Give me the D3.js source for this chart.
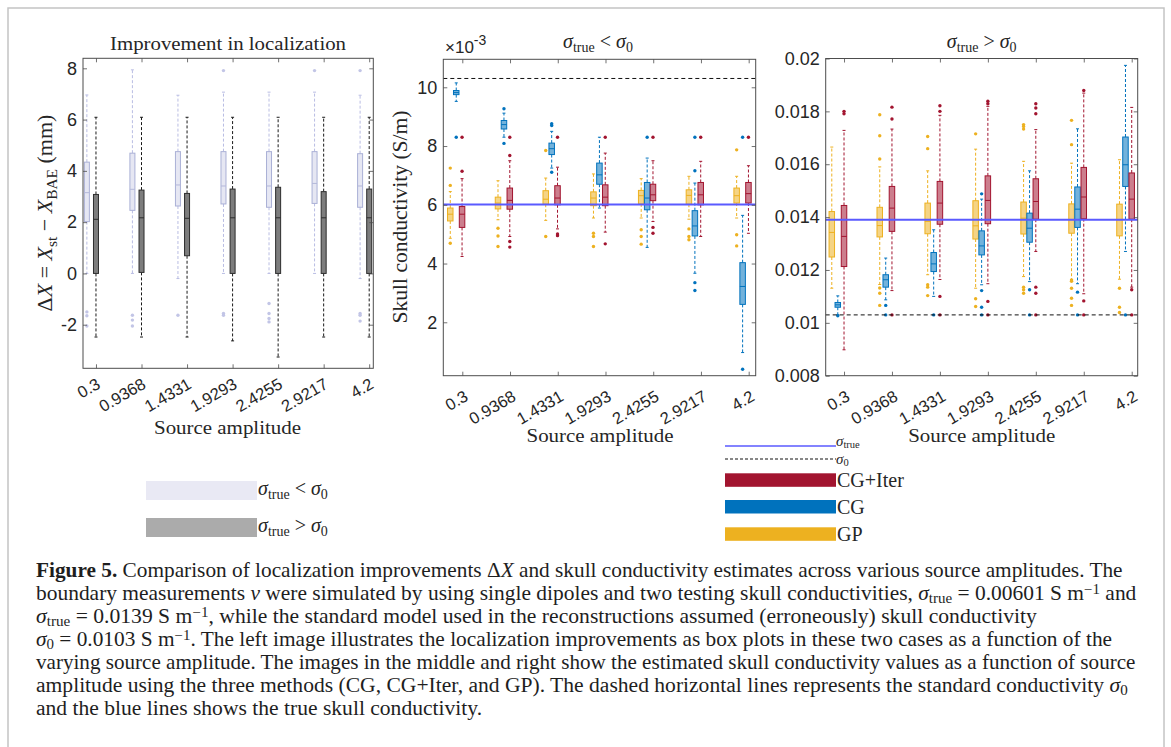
<!DOCTYPE html>
<html>
<head>
<meta charset="utf-8">
<script src="https://cdn.jsdelivr.net/npm/d3@7"></script>
<style>
  body { margin: 0; background: #fff; }
  svg { display: block; }
</style>
</head>
<body>
<svg id="fig" width="1171" height="747"></svg>
<script>
"use strict";

// --- DATA ---
const categories = ["0.3", "0.9368", "1.4331", "1.9293", "2.4255", "2.9217", "4.2"];

// box rows: [lower whisker, q1, median, q3, upper whisker]
const dxLess = [[0, 2.02, 3.15, 4.34, 6.96], [0, 2.46, 3.28, 4.69, 7.94], [-0.2, 2.63, 3.45, 4.75, 6.95],
  [0, 2.71, 3.41, 4.75, 7.07], [0, 2.58, 3.41, 4.75, 7.07], [0, 2.73, 3.51, 4.75, 7.07], [-0.2, 2.58, 3.41, 4.67, 6.95]];
const dxLessOut = [[-1.5, -1.65, -2.05], [-1.63, -1.82, -2.05], [-1.63], [7.91, -1.56, -1.63],
  [-1.17, -1.56, -1.76, -1.89], [7.91], [7.91, -1.56, -1.63, -1.86]];
const dxMore = [[-2.48, 0, 2.11, 3.08, 6.09], [-2.48, 0.04, 2.17, 3.25, 6.09], [-2.48, 0.69, 2.15, 3.12, 6.09],
  [-2.63, 0, 2.17, 3.29, 6.09], [-3.26, 0, 2.17, 3.36, 6.09], [-2.48, 0, 2.17, 3.19, 6.09], [-2.48, 0, 2.17, 3.29, 6.09]];
const dxMoreOut = [[], [], [], [], [], [], []];

// sigma_true < sigma_0, values x 1e-3 S/m
const lowGP = [[4.86, 5.45, 5.68, 5.89, 6.45], [5.49, 5.86, 6.06, 6.26, 6.82], [5.47, 6.02, 6.19, 6.48, 6.91],
  [5.55, 5.97, 6.23, 6.44, 7.05], [5.55, 6.03, 6.31, 6.49, 6.89], [5.51, 6.02, 6.32, 6.51, 6.97], [5.55, 6.06, 6.31, 6.57, 6.97]];
const lowGPOut = [[7.25, 6.66, 4.69], [5.2, 4.94, 4.58], [7.85, 4.92], [5.03, 4.92, 4.58], [5.15, 4.92, 4.66], [5.18, 4.92, 4.81], [7.87, 4.98, 4.6]];
const lowCG = [[9.52, 9.75, 9.82, 9.89, 10.15], [8.3, 8.58, 8.73, 8.87, 9.12], [7.25, 7.71, 7.91, 8.1, 8.5],
  [5.89, 6.7, 7.02, 7.42, 8.3], [4.55, 5.83, 6.23, 6.76, 7.59], [3.67, 4.94, 5.28, 5.8, 6.74], [0.97, 2.61, 3.22, 4.03, 5.64]];
const lowCGOut = [[8.3], [9.27, 8.09], [8.76, 8.7, 7.11], [], [8.3], [8.3, 7.16, 3.35, 3.08], [8.3, 0.4]];
const lowIter = [[4.24, 5.23, 5.68, 5.94, 6.89], [4.92, 5.85, 6.15, 6.57, 7.5], [5.18, 6.0, 6.23, 6.65, 7.28],
  [5.07, 5.97, 6.26, 6.68, 7.76], [5.43, 6.14, 6.34, 6.7, 7.5], [4.92, 6.0, 6.34, 6.76, 7.48], [5.03, 6.06, 6.38, 6.76, 7.33]];
const lowIterOut = [[8.3, 7.14], [8.3, 7.68, 4.75, 4.56], [8.3, 5.01, 4.95], [8.3, 4.67], [8.3, 5.23, 5.03], [8.3], [8.3]];

// sigma_true > sigma_0, S/m
const highGP = [[0.01131, 0.01249, 0.01342, 0.01421, 0.01665], [0.01145, 0.01325, 0.01368, 0.01437, 0.0159],
  [0.01182, 0.01337, 0.01384, 0.01453, 0.01575], [0.01131, 0.01317, 0.01367, 0.01462, 0.01657],
  [0.01175, 0.01336, 0.01396, 0.01457, 0.01611], [0.01163, 0.01339, 0.0139, 0.0145, 0.01604],
  [0.01165, 0.01329, 0.0139, 0.01449, 0.01617]];
const highGPOut = [[], [0.01787, 0.01708, 0.0162, 0.01132, 0.01112, 0.01066], [0.01705, 0.01659, 0.01144, 0.01135, 0.01103],
  [0.01715, 0.01091, 0.01062], [0.0175, 0.01743, 0.01733, 0.01135, 0.01125, 0.01112],
  [0.01766, 0.01674, 0.01162, 0.01157, 0.01131, 0.01093, 0.01066], [0.01131, 0.01059, 0.01039]];
const highCG = [[0.0103, 0.01059, 0.01068, 0.01077, 0.01102], [0.01087, 0.01135, 0.01163, 0.01182, 0.01245],
  [0.011, 0.01194, 0.01223, 0.01266, 0.01352], [0.01144, 0.01257, 0.01291, 0.01348, 0.01468],
  [0.01156, 0.01305, 0.01358, 0.01415, 0.01575], [0.01148, 0.01361, 0.0143, 0.01514, 0.01734],
  [0.0127, 0.01516, 0.01598, 0.01703, 0.01974]];
const highCGOut = [[0.01027], [0.01066, 0.0103], [0.0103], [0.01488, 0.01122, 0.01059, 0.0103], [0.01125, 0.0103], [0.01116, 0.0103], [0.0103]];
const highIter = [[0.00898, 0.01213, 0.01327, 0.01444, 0.01728], [0.01122, 0.01346, 0.01434, 0.01516, 0.01733],
  [0.01164, 0.01373, 0.01453, 0.01535, 0.01785], [0.01148, 0.01375, 0.01463, 0.01556, 0.01819],
  [0.0127, 0.01392, 0.01459, 0.01545, 0.01731], [0.0111, 0.01394, 0.01476, 0.01588, 0.01869],
  [0.01135, 0.01392, 0.01468, 0.01567, 0.01815]];
const highIterOut = [[0.018, 0.01791], [0.01816, 0.01771, 0.0103], [0.01821, 0.018, 0.011, 0.0103],
  [0.01838, 0.01829, 0.01081, 0.0103], [0.01829, 0.01813, 0.01791, 0.01135, 0.01112, 0.0103],
  [0.01879, 0.01083, 0.0103], [0.01125, 0.0103]];

const dxTicks = [-2, 0, 2, 4, 6, 8];
const lowTicks = [2, 4, 6, 8, 10];
const highTicks = [0.008, 0.01, 0.012, 0.014, 0.016, 0.018, 0.02];
const sigmaTrueLow = 6.01, sigma0Low = 10.3;       // x 1e-3
const sigmaTrueHigh = 0.0139, sigma0High = 0.0103;

// --- LAYOUT / STYLE ---
const SANS = '"Liberation Sans", Arial, sans-serif';
const SERIF = '"Liberation Serif", "Times New Roman", serif';
const COL = { gp: "#EDB120", cg: "#0072BD", iter: "#A2142F", axis: "#4d4d4d", txt: "#262626", trueLine: "#5a5aff" };
const P = {
  dx:   { l: 83, r: 373.3, t: 58.3, b: 368.3, xd: [-0.285, 6.09], yd: [-3.7, 8.39], lab: [5, 19] },
  low:  { l: 443.3, r: 755.7, t: 59.3, b: 375.7, xd: [-0.398, 6.147], yd: [0.182, 10.953], lab: [6.5, 24] },
  high: { l: 825.7, r: 1137.7, t: 58.5, b: 375.7, xd: [-0.382, 6.125], yd: [0.008, 0.02], lab: [6.5, 24] }
};

const svg = d3.select("#fig");

// outer frame
svg.append("rect").attr("x", 8).attr("y", 8).attr("width", 1156).attr("height", 760)
  .attr("fill", "none").attr("stroke", "#c4c4c4").attr("stroke-width", 1.5);

// --- HELPERS ---
function rich(parent, segs, fs, subK = 0.22, supK = 0.38) {
  const t = parent.append("text").attr("font-family", SERIF).attr("font-size", fs).attr("fill", COL.txt);
  let cur = 0;
  segs.forEach(([s, k]) => {
    const sh = k === "sub" ? subK * fs : k === "sup" ? -supK * fs : 0;
    const ts = t.append("tspan").text(s).attr("dy", sh - cur);
    cur = sh;
    if (k === "b") ts.attr("font-weight", "bold");
    if (k === "i") ts.attr("font-style", "italic");
    if (k === "sub" || k === "sup") ts.attr("font-size", fs * 0.7);
  });
  return t;
}

function makePanel(box, ticks, fmt) {
  const x = d3.scaleLinear().domain(box.xd).range([box.l, box.r]);
  const y = d3.scaleLinear().domain(box.yd).range([box.b, box.t]);
  const g = svg.append("g");
  return { g, x, y, box, ticks, fmt };
}

function drawAxes(p) {
  const { g, x, y, box } = p;
  const idx = d3.range(categories.length);
  const ax = g.append("g").attr("color", COL.axis);
  const yl = ax.append("g").attr("transform", `translate(${box.l},0)`)
    .call(d3.axisLeft(y).tickValues(p.ticks).tickFormat(p.fmt).tickSize(-4).tickPadding(6));
  yl.selectAll("text").attr("font-size", 18);
  ax.append("g").attr("transform", `translate(${box.r},0)`)
    .call(d3.axisRight(y).tickValues(p.ticks).tickFormat("").tickSize(-4));
  ax.append("g").attr("transform", `translate(0,${box.t})`)
    .call(d3.axisTop(x).tickValues(idx).tickFormat("").tickSize(-4));
  const xb = ax.append("g").attr("transform", `translate(0,${box.b})`)
    .call(d3.axisBottom(x).tickValues(idx).tickFormat(i => categories[i]).tickSize(-4));
  xb.selectAll("text").attr("x", 0).attr("y", 0).attr("dy", 0).attr("text-anchor", "end")
    .attr("transform", `translate(${box.lab[0]},${box.lab[1]}) rotate(-30)`)
    .attr("font-size", 16.5);
  ax.selectAll(".domain").remove();
  ax.selectAll("text").attr("font-family", SANS).attr("fill", COL.txt);
  ax.selectAll(".tick line").attr("stroke-width", 0.8);
  g.append("rect").attr("x", box.l).attr("y", box.t).attr("width", box.r - box.l).attr("height", box.b - box.t)
    .attr("fill", "none").attr("stroke", COL.axis).attr("stroke-width", 1);
}

function drawBoxes(p, stats, outs, off, st) {
  const bw = st.w, cw = 1.5;
  const grp = p.g.append("g").selectAll("g").data(stats).join("g")
    .attr("transform", (d, i) => `translate(${p.x(i + off)},0)`);
  grp.append("path")
    .attr("d", d => `M0,${p.y(d[3])}V${p.y(d[4])}M0,${p.y(d[1])}V${p.y(d[0])}`)
    .attr("fill", "none").attr("stroke", st.whisker).attr("stroke-width", 1).attr("stroke-dasharray", "3,2");
  grp.append("path")
    .attr("d", d => `M${-cw},${p.y(d[4])}H${cw}M${-cw},${p.y(d[0])}H${cw}`)
    .attr("stroke", st.whisker).attr("stroke-width", 1);
  grp.append("rect").attr("x", -bw / 2).attr("width", bw)
    .attr("y", d => p.y(d[3])).attr("height", d => p.y(d[1]) - p.y(d[3]))
    .attr("fill", st.fill).attr("fill-opacity", st.fo).attr("stroke", st.stroke).attr("stroke-width", 1);
  grp.append("line").attr("x1", -bw / 2).attr("x2", bw / 2)
    .attr("y1", d => p.y(d[2])).attr("y2", d => p.y(d[2]))
    .attr("stroke", st.median).attr("stroke-width", 1);
  grp.selectAll("circle").data((d, i) => outs[i]).join("circle")
    .attr("cx", 0).attr("cy", v => p.y(v)).attr("r", 1.7).attr("fill", st.dot);
}

function hline(p, v, color, w, dash) {
  p.g.append("line").attr("x1", p.box.l).attr("x2", p.box.r).attr("y1", p.y(v)).attr("y2", p.y(v))
    .attr("stroke", color).attr("stroke-width", w).attr("stroke-dasharray", dash || null);
}

function colourStyle(c) {
  return { w: 5.5, fill: c, fo: 0.55, stroke: c, median: c, whisker: c, dot: c };
}

// --- LEFT PANEL: localisation improvement ---
const pDx = makePanel(P.dx, dxTicks, d => String(d));
drawBoxes(pDx, dxLess, dxLessOut, -0.2,
  { w: 5, fill: "#e6e7f3", fo: 1, stroke: "#aab0d6", median: "#b4b8da", whisker: "#b9bde3", dot: "#c2c5e6" });
drawBoxes(pDx, dxMore, dxMoreOut, 0,
  { w: 5, fill: "#7d7d7d", fo: 1, stroke: "#2d2d2d", median: "#2d2d2d", whisker: "#1a1a1a", dot: "#1a1a1a" });
drawAxes(pDx);

// --- MIDDLE PANEL ---
const pLow = makePanel(P.low, lowTicks, d => String(d));
drawBoxes(pLow, lowGP, lowGPOut, -0.252, colourStyle(COL.gp));
drawBoxes(pLow, lowCG, lowCGOut, -0.127, colourStyle(COL.cg));
drawBoxes(pLow, lowIter, lowIterOut, -0.005, colourStyle(COL.iter));
hline(pLow, sigmaTrueLow, COL.trueLine, 2);
hline(pLow, sigma0Low, "#111", 1, "4,3");
drawAxes(pLow);

// --- RIGHT PANEL ---
const pHigh = makePanel(P.high, highTicks, d => String(+d.toFixed(3)));
drawBoxes(pHigh, highGP, highGPOut, -0.255, colourStyle(COL.gp));
drawBoxes(pHigh, highCG, highCGOut, -0.13, colourStyle(COL.cg));
drawBoxes(pHigh, highIter, highIterOut, 0, colourStyle(COL.iter));
hline(pHigh, sigmaTrueHigh, COL.trueLine, 2);
hline(pHigh, sigma0High, "#111", 1, "4,3");
drawAxes(pHigh);

// --- TITLES & AXIS LABELS ---
svg.append("text").attr("x", 228).attr("y", 50).attr("text-anchor", "middle")
  .attr("font-family", SERIF).attr("font-size", 19).attr("fill", COL.txt)
  .attr("textLength", 236).attr("lengthAdjust", "spacingAndGlyphs").text("Improvement in localization");

rich(svg, [["σ", "i"], ["true", "sub"], [" < "], ["σ", "i"], ["0", "sub"]], 20)
  .attr("x", 598).attr("y", 48).attr("text-anchor", "middle");
rich(svg, [["σ", "i"], ["true", "sub"], [" > "], ["σ", "i"], ["0", "sub"]], 20)
  .attr("x", 981.7).attr("y", 48).attr("text-anchor", "middle");

const expo = svg.append("text").attr("x", 445).attr("y", 53).attr("font-family", SANS)
  .attr("font-size", 17).attr("fill", COL.txt);
expo.append("tspan").text("×10");
expo.append("tspan").text("-3").attr("dy", -8).attr("font-size", 14);

[[227.5, 434], [600, 442], [981.7, 442]].forEach(([cx, cy]) => {
  svg.append("text").attr("x", cx).attr("y", cy).attr("text-anchor", "middle")
    .attr("font-family", SERIF).attr("font-size", 19).attr("fill", COL.txt)
    .attr("textLength", 147).attr("lengthAdjust", "spacingAndGlyphs").text("Source amplitude");
});

rich(svg, [["Δ"], ["X", "i"], [" = "], ["X", "i"], ["st", "sub"], [" − "], ["X", "i"], ["BAE", "sub"], [" (mm)"]], 22)
  .attr("text-anchor", "middle").attr("transform", "translate(52,213) rotate(-90)");

svg.append("text").attr("text-anchor", "middle").attr("transform", "translate(407,217) rotate(-90)")
  .attr("font-family", SERIF).attr("font-size", 20).attr("fill", COL.txt)
  .attr("textLength", 213).attr("lengthAdjust", "spacingAndGlyphs").text("Skull conductivity (S/m)");

// --- LEGENDS ---
const legL = svg.append("g");
legL.append("rect").attr("x", 146).attr("y", 481).attr("width", 111).attr("height", 19).attr("fill", "#e9e9f4");
legL.append("rect").attr("x", 146).attr("y", 518).attr("width", 111).attr("height", 19).attr("fill", "#ababab");
rich(legL, [["σ", "i"], ["true", "sub"], [" < "], ["σ", "i"], ["0", "sub"]], 20).attr("x", 258).attr("y", 495);
rich(legL, [["σ", "i"], ["true", "sub"], [" > "], ["σ", "i"], ["0", "sub"]], 20).attr("x", 258).attr("y", 532);

const legR = svg.append("g");
legR.append("line").attr("x1", 725).attr("x2", 836).attr("y1", 446).attr("y2", 446)
  .attr("stroke", COL.trueLine).attr("stroke-width", 1.5);
legR.append("line").attr("x1", 725).attr("x2", 836).attr("y1", 459).attr("y2", 459)
  .attr("stroke", "#111").attr("stroke-width", 1).attr("stroke-dasharray", "3,2");
rich(legR, [["σ", "i"], ["true", "sub"]], 15, 0.12).attr("x", 836).attr("y", 446);
rich(legR, [["σ", "i"], ["0", "sub"]], 15, 0.12).attr("x", 836).attr("y", 464);
[["CG+Iter", COL.iter, 473.3], ["CG", COL.cg, 500], ["GP", COL.gp, 527.3]].forEach(([name, c, y0]) => {
  legR.append("rect").attr("x", 725).attr("y", y0).attr("width", 111).attr("height", 13.5).attr("fill", c);
  legR.append("text").attr("x", 837).attr("y", y0 + 13.5).attr("font-family", SERIF).attr("font-size", 20)
    .attr("fill", COL.txt).text(name);
});

// --- CAPTION ---
const capLines = [
  [["Figure 5.", "b"], [" Comparison of localization improvements Δ"], ["X", "i"], [" and skull conductivity estimates across various source amplitudes. The"]],
  [["boundary measurements "], ["ν", "i"], [" were simulated by using single dipoles and two testing skull conductivities, "], ["σ", "i"], ["true", "sub"], [" = 0.00601 S m"], ["−1", "sup"], [" and"]],
  [["σ", "i"], ["true", "sub"], [" = 0.0139 S m"], ["−1", "sup"], [", while the standard model used in the reconstructions assumed (erroneously) skull conductivity"]],
  [["σ", "i"], ["0", "sub"], [" = 0.0103 S m"], ["−1", "sup"], [". The left image illustrates the localization improvements as box plots in these two cases as a function of the"]],
  [["varying source amplitude. The images in the middle and right show the estimated skull conductivity values as a function of source"]],
  [["amplitude using the three methods (CG, CG+Iter, and GP). The dashed horizontal lines represents the standard conductivity "], ["σ", "i"], ["0", "sub"]],
  [["and the blue lines shows the true skull conductivity."]]
];
const capWidths = [1087, 1100.7, 1001, 1077, 1100.7, 1092, null];
let lastScale = 1;
capLines.forEach((segs, i) => {
  const lg = svg.append("g");
  const t = rich(lg, segs, 20, 0.14, 0.3).attr("x", 0).attr("y", 0).attr("fill", "#1e1e1e");
  const w = t.node().getBBox().width;
  const sx = capWidths[i] ? capWidths[i] / w : lastScale;
  lastScale = sx;
  lg.attr("transform", `translate(36,${577 + i * 23}) scale(${sx},1)`);
});
</script>
</body>
</html>
